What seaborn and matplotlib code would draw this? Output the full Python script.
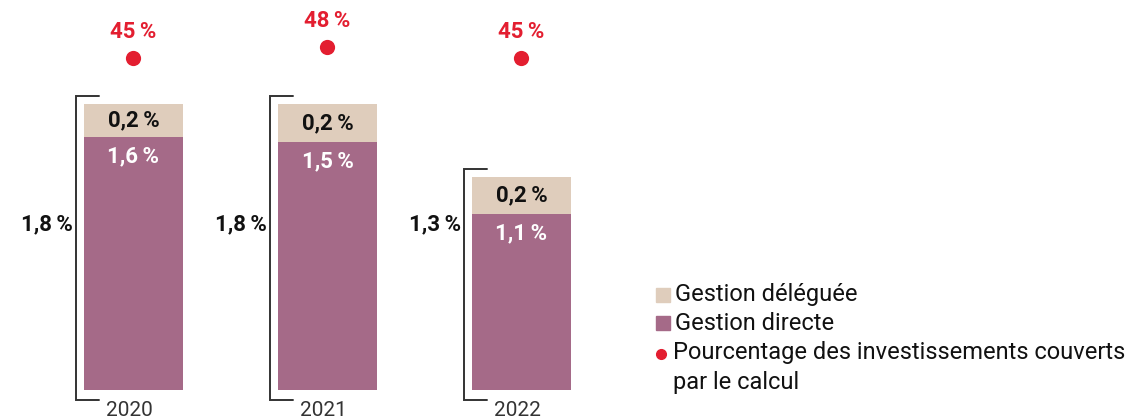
import matplotlib
matplotlib.use("Agg")
import matplotlib.pyplot as plt
import seaborn as sns
import pandas as pd
from matplotlib.patches import Rectangle
from matplotlib.lines import Line2D

# Data
years = ["2020", "2021", "2022"]
gestion_directe = [1.59, 1.56, 1.11]
gestion_deleguee = [0.21, 0.24, 0.23]
label_directe = ["1,6", "1,5", "1,1"]
label_deleguee = ["0,2", "0,2", "0,2"]
label_total = ["1,8", "1,8", "1,3"]
couverture = [45, 48, 45]

C_DELEG = "#DFCDBC"
C_DIRECT = "#A56A88"
C_RED = "#E31E30"
C_TEXT = "#111111"
C_GREY = "#333333"
THIN = "\u2009"
FS_VAL = 16
FS_LEG = 17

sns.set_theme(style="white")
plt.rcParams["font.family"] = ["Roboto", "DejaVu Sans"]

df = pd.DataFrame({"year": years, "directe": gestion_directe, "deleguee": gestion_deleguee})
df["total"] = df["directe"] + df["deleguee"]

fig = plt.figure(figsize=(11.27, 4.19), dpi=100)
ax = fig.add_axes([0, 0, 1, 1])

W = 0.51
sns.barplot(data=df, x="year", y="total", color=C_DELEG, saturation=1, width=W, linewidth=0, ax=ax)
sns.barplot(data=df, x="year", y="directe", color=C_DIRECT, saturation=1, width=W, linewidth=0, ax=ax)

ax.set_xlim(-0.688, 5.121)
ax.set_ylim(-0.182, 2.453)
ax.axis("off")

for i, row in df.iterrows():
    # segment labels
    ax.text(i, row["directe"] + row["deleguee"] / 2, label_deleguee[i] + THIN + "%",
            ha="center", va="center", fontsize=FS_VAL, fontweight="bold", color=C_TEXT)
    ax.annotate(label_directe[i] + THIN + "%", (i, row["directe"]), xytext=(0, -14),
                textcoords="offset points", ha="center", va="center",
                fontsize=FS_VAL, fontweight="bold", color="white")
    # bracket
    bx = i - 0.296
    top = row["total"] + 0.05
    bot = -0.063
    ax.plot([i - 0.178, bx, bx, i - 0.178], [top, top, bot, bot],
            color=C_GREY, lw=1.4, solid_joinstyle="miter", clip_on=False)
    ax.text(bx - 0.015, 1.04, label_total[i] + THIN + "%", ha="right", va="center",
            fontsize=FS_VAL, fontweight="bold", color=C_TEXT)
    # year
    ax.text(i - 0.02, -0.13, years[i], ha="center", va="center", fontsize=15, color=C_GREY)

# coverage dots on their own scale
ax2 = ax.twinx()
ax2.set_ylim(-53.45, 60.82)
ax2.axis("off")
sns.scatterplot(x=[0, 1, 2], y=couverture, color=C_RED, s=120, linewidth=0, ax=ax2)
for i, p in enumerate(couverture):
    ax2.annotate(f"{p}{THIN}%", (i, p), xytext=(0, 19), textcoords="offset points",
                 ha="center", va="center", fontsize=FS_VAL, fontweight="bold", color=C_RED)
ax2.set_xlim(ax.get_xlim())

# legend drawn by hand
def px(x, y):
    return x / 1127, 1 - y / 419

for y, col, lab in [(295, C_DELEG, "Gestion déléguée"), (323, C_DIRECT, "Gestion directe")]:
    x0, y0 = px(656, y + 7)
    fig.patches.append(Rectangle((x0, y0), 14 / 1127, 14 / 419, color=col, transform=fig.transFigure))
    fig.text(*px(675, y), lab, ha="left", va="center", fontsize=FS_LEG, color=C_TEXT)
fig.add_artist(Line2D([px(661, 0)[0]], [px(0, 354)[1]], marker="o", markersize=7,
                      color=C_RED, linestyle="none", transform=fig.transFigure))
fig.text(*px(673, 353), "Pourcentage des investissements couverts", ha="left", va="center",
         fontsize=FS_LEG, color=C_TEXT)
fig.text(*px(673, 382), "par le calcul", ha="left", va="center", fontsize=FS_LEG, color=C_TEXT)

fig.savefig("out.png", dpi=100)
